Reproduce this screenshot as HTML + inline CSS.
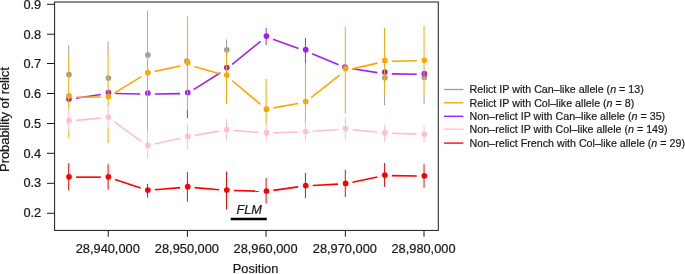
<!DOCTYPE html>
<html><head><meta charset="utf-8"><title>Probability of relict</title>
<style>
html,body{margin:0;padding:0;background:#fff;}
svg{display:block;}
.t{font-family:"Liberation Sans",sans-serif;font-size:12.8px;fill:#1a1a1a;stroke:#1a1a1a;stroke-width:0.22px;}
.l{font-family:"Liberation Sans",sans-serif;font-size:10.7px;fill:#1a1a1a;stroke:#1a1a1a;stroke-width:0.2px;}
</style></head><body>
<svg width="685" height="274" viewBox="0 0 685 274">
<rect width="685" height="274" fill="#fff"/>
<g id="gray"><circle cx="69.00" cy="74.5" r="2.85" fill="#a0a0a0"/>
<circle cx="108.40" cy="78.1" r="2.85" fill="#a0a0a0"/>
<circle cx="147.84" cy="54.9" r="2.85" fill="#a0a0a0"/>
<circle cx="186.90" cy="61.2" r="2.85" fill="#a0a0a0"/>
<circle cx="226.80" cy="49.85" r="2.85" fill="#a0a0a0"/>
<circle cx="384.86" cy="77.8" r="2.85" fill="#a0a0a0"/>
<circle cx="424.34" cy="77.4" r="2.85" fill="#a0a0a0"/>
<line x1="68.70" y1="45.5" x2="68.70" y2="54.9" stroke="#a0a0a0" stroke-width="1.0"/>
<line x1="108.10" y1="41.6" x2="108.10" y2="50.6" stroke="#a0a0a0" stroke-width="1.0"/>
<line x1="147.54" y1="10.9" x2="147.54" y2="14.2" stroke="#a0a0a0" stroke-width="1.0"/>
<line x1="226.50" y1="39.4" x2="226.50" y2="51.2" stroke="#a0a0a0" stroke-width="1.0"/>
<line x1="384.56" y1="94.2" x2="384.56" y2="105.2" stroke="#a0a0a0" stroke-width="1.0"/>
<line x1="424.04" y1="95" x2="424.04" y2="104.1" stroke="#a0a0a0" stroke-width="1.0"/></g>
<g id="purple"><line x1="75.91" y1="98.28" x2="100.89" y2="94.42" stroke="#a020f0" stroke-width="1.6"/>
<line x1="115.40" y1="93.45" x2="140.24" y2="93.95" stroke="#a020f0" stroke-width="1.6"/>
<line x1="154.84" y1="93.99" x2="180.10" y2="93.61" stroke="#a020f0" stroke-width="1.6"/>
<line x1="193.58" y1="89.61" x2="220.32" y2="72.74" stroke="#a020f0" stroke-width="1.6"/>
<line x1="232.18" y1="64.27" x2="260.44" y2="41.48" stroke="#a020f0" stroke-width="1.6"/>
<line x1="272.99" y1="39.37" x2="298.55" y2="48.58" stroke="#a020f0" stroke-width="1.6"/>
<line x1="312.16" y1="53.85" x2="338.56" y2="64.80" stroke="#a020f0" stroke-width="1.6"/>
<line x1="352.51" y1="68.74" x2="377.35" y2="72.66" stroke="#a020f0" stroke-width="1.6"/>
<line x1="391.86" y1="73.89" x2="416.74" y2="74.21" stroke="#a020f0" stroke-width="1.6"/>
<circle cx="69.00" cy="99.0" r="2.85" fill="#a020f0"/>
<circle cx="108.40" cy="92.6" r="2.85" fill="#a020f0"/>
<circle cx="147.84" cy="93.0" r="2.85" fill="#a020f0"/>
<circle cx="187.70" cy="92.5" r="2.85" fill="#a020f0"/>
<circle cx="226.80" cy="67.5" r="2.85" fill="#a020f0"/>
<circle cx="266.42" cy="36.1" r="2.85" fill="#a020f0"/>
<circle cx="305.72" cy="49.7" r="2.85" fill="#a020f0"/>
<circle cx="345.00" cy="67.1" r="2.85" fill="#a020f0"/>
<circle cx="384.86" cy="72.0" r="2.85" fill="#a020f0"/>
<circle cx="424.34" cy="73.7" r="2.85" fill="#a020f0"/>
<line x1="187.40" y1="109.8" x2="187.40" y2="118" stroke="#a020f0" stroke-width="1.0"/>
<line x1="266.12" y1="28" x2="266.12" y2="44.9" stroke="#a020f0" stroke-width="1.0"/>
<line x1="305.42" y1="37.9" x2="305.42" y2="63.2" stroke="#a020f0" stroke-width="1.0"/></g>
<g id="orange"><line x1="76.00" y1="97.30" x2="100.80" y2="96.95" stroke="#ffa500" stroke-width="1.6"/>
<line x1="114.34" y1="93.06" x2="141.30" y2="76.69" stroke="#ffa500" stroke-width="1.6"/>
<line x1="154.68" y1="71.38" x2="180.26" y2="65.92" stroke="#ffa500" stroke-width="1.6"/>
<line x1="194.41" y1="66.44" x2="219.49" y2="73.76" stroke="#ffa500" stroke-width="1.6"/>
<line x1="232.09" y1="80.50" x2="260.53" y2="104.40" stroke="#ffa500" stroke-width="1.6"/>
<line x1="273.31" y1="107.84" x2="298.23" y2="103.46" stroke="#ffa500" stroke-width="1.6"/>
<line x1="311.13" y1="97.66" x2="339.59" y2="75.04" stroke="#ffa500" stroke-width="1.6"/>
<line x1="352.42" y1="68.87" x2="377.44" y2="63.13" stroke="#ffa500" stroke-width="1.6"/>
<line x1="391.86" y1="61.32" x2="416.74" y2="60.68" stroke="#ffa500" stroke-width="1.6"/>
<circle cx="69.00" cy="95.8" r="2.85" fill="#ffa500"/>
<circle cx="108.40" cy="96.5" r="2.85" fill="#ffa500"/>
<circle cx="147.84" cy="72.5" r="2.85" fill="#ffa500"/>
<circle cx="187.70" cy="62.5" r="2.85" fill="#ffa500"/>
<circle cx="226.80" cy="75.0" r="2.85" fill="#ffa500"/>
<circle cx="266.42" cy="109.2" r="2.85" fill="#ffa500"/>
<circle cx="305.72" cy="101.5" r="2.85" fill="#ffa500"/>
<circle cx="345.60" cy="68.6" r="2.85" fill="#ffa500"/>
<circle cx="384.86" cy="60.6" r="2.85" fill="#ffa500"/>
<circle cx="424.34" cy="60.3" r="2.85" fill="#ffa500"/>
<line x1="68.70" y1="54.7" x2="68.70" y2="109.6" stroke="#ffa500" stroke-width="1.0"/>
<line x1="108.10" y1="50.4" x2="108.10" y2="106.2" stroke="#ffa500" stroke-width="1.0"/>
<line x1="147.54" y1="14.0" x2="147.54" y2="131" stroke="#ffa500" stroke-width="1.0"/>
<line x1="187.40" y1="16.4" x2="187.40" y2="110" stroke="#ffa500" stroke-width="1.0"/>
<line x1="226.50" y1="51" x2="226.50" y2="104.1" stroke="#ffa500" stroke-width="1.0"/>
<line x1="266.12" y1="79" x2="266.12" y2="123.9" stroke="#ffa500" stroke-width="1.0"/>
<line x1="305.42" y1="63" x2="305.42" y2="121.9" stroke="#ffa500" stroke-width="1.0"/>
<line x1="345.30" y1="26.7" x2="345.30" y2="113.3" stroke="#ffa500" stroke-width="1.0"/>
<line x1="384.56" y1="27.8" x2="384.56" y2="94.2" stroke="#ffa500" stroke-width="1.0"/>
<line x1="424.04" y1="25.8" x2="424.04" y2="95" stroke="#ffa500" stroke-width="1.0"/>
<line x1="68.70" y1="131.3" x2="68.70" y2="137.5" stroke="#ffa500" stroke-width="1.0"/>
<line x1="108.10" y1="127.9" x2="108.10" y2="143.1" stroke="#ffa500" stroke-width="1.0"/></g>
<g id="pink"><line x1="75.97" y1="120.39" x2="100.83" y2="118.11" stroke="#ffc0cb" stroke-width="1.6"/>
<line x1="114.04" y1="121.70" x2="141.60" y2="141.40" stroke="#ffc0cb" stroke-width="1.6"/>
<line x1="154.66" y1="144.04" x2="180.28" y2="138.26" stroke="#ffc0cb" stroke-width="1.6"/>
<line x1="194.59" y1="135.40" x2="219.31" y2="131.10" stroke="#ffc0cb" stroke-width="1.6"/>
<line x1="233.78" y1="130.44" x2="258.84" y2="132.46" stroke="#ffc0cb" stroke-width="1.6"/>
<line x1="273.42" y1="132.83" x2="298.12" y2="132.07" stroke="#ffc0cb" stroke-width="1.6"/>
<line x1="312.70" y1="131.32" x2="338.02" y2="129.48" stroke="#ffc0cb" stroke-width="1.6"/>
<line x1="352.56" y1="129.71" x2="377.30" y2="132.29" stroke="#ffc0cb" stroke-width="1.6"/>
<line x1="391.86" y1="133.29" x2="416.74" y2="134.11" stroke="#ffc0cb" stroke-width="1.6"/>
<circle cx="69.00" cy="120.7" r="2.85" fill="#ffc0cb"/>
<circle cx="108.40" cy="117.1" r="2.85" fill="#ffc0cb"/>
<circle cx="147.84" cy="145.3" r="2.85" fill="#ffc0cb"/>
<circle cx="187.70" cy="136.3" r="2.85" fill="#ffc0cb"/>
<circle cx="226.80" cy="129.5" r="2.85" fill="#ffc0cb"/>
<circle cx="266.42" cy="132.7" r="2.85" fill="#ffc0cb"/>
<circle cx="305.72" cy="131.5" r="2.85" fill="#ffc0cb"/>
<circle cx="345.60" cy="128.6" r="2.85" fill="#ffc0cb"/>
<circle cx="384.86" cy="132.7" r="2.85" fill="#ffc0cb"/>
<circle cx="424.34" cy="134" r="2.85" fill="#ffc0cb"/>
<line x1="68.70" y1="109.5" x2="68.70" y2="131.4" stroke="#ffc0cb" stroke-width="1.0"/>
<line x1="108.10" y1="106.1" x2="108.10" y2="128" stroke="#ffc0cb" stroke-width="1.0"/>
<line x1="147.54" y1="131" x2="147.54" y2="158" stroke="#ffc0cb" stroke-width="1.0"/>
<line x1="187.40" y1="123.6" x2="187.40" y2="149.3" stroke="#ffc0cb" stroke-width="1.0"/>
<line x1="226.50" y1="118.9" x2="226.50" y2="140.7" stroke="#ffc0cb" stroke-width="1.0"/>
<line x1="266.12" y1="123.8" x2="266.12" y2="141.7" stroke="#ffc0cb" stroke-width="1.0"/>
<line x1="305.42" y1="121.8" x2="305.42" y2="140.7" stroke="#ffc0cb" stroke-width="1.0"/>
<line x1="345.30" y1="117.7" x2="345.30" y2="140" stroke="#ffc0cb" stroke-width="1.0"/>
<line x1="384.56" y1="124.9" x2="384.56" y2="141.7" stroke="#ffc0cb" stroke-width="1.0"/>
<line x1="424.04" y1="125.9" x2="424.04" y2="142.8" stroke="#ffc0cb" stroke-width="1.0"/></g>
<g id="red"><line x1="76.00" y1="177.15" x2="100.80" y2="177.15" stroke="#ff0000" stroke-width="1.6"/>
<line x1="115.02" y1="179.47" x2="140.62" y2="188.03" stroke="#ff0000" stroke-width="1.6"/>
<line x1="154.82" y1="189.75" x2="180.12" y2="187.65" stroke="#ff0000" stroke-width="1.6"/>
<line x1="194.67" y1="187.66" x2="219.23" y2="189.74" stroke="#ff0000" stroke-width="1.6"/>
<line x1="233.80" y1="190.53" x2="258.82" y2="191.17" stroke="#ff0000" stroke-width="1.6"/>
<line x1="273.35" y1="190.34" x2="298.19" y2="186.86" stroke="#ff0000" stroke-width="1.6"/>
<line x1="312.71" y1="185.47" x2="338.01" y2="184.13" stroke="#ff0000" stroke-width="1.6"/>
<line x1="352.44" y1="182.24" x2="377.42" y2="176.96" stroke="#ff0000" stroke-width="1.6"/>
<line x1="391.86" y1="175.58" x2="416.74" y2="176.02" stroke="#ff0000" stroke-width="1.6"/>
<circle cx="69.00" cy="176.8" r="2.85" fill="#ff0000"/>
<circle cx="108.40" cy="176.8" r="2.85" fill="#ff0000"/>
<circle cx="147.84" cy="190.0" r="2.85" fill="#ff0000"/>
<circle cx="187.70" cy="186.7" r="2.85" fill="#ff0000"/>
<circle cx="226.80" cy="190.0" r="2.85" fill="#ff0000"/>
<circle cx="266.42" cy="191.0" r="2.85" fill="#ff0000"/>
<circle cx="305.72" cy="185.5" r="2.85" fill="#ff0000"/>
<circle cx="345.60" cy="183.4" r="2.85" fill="#ff0000"/>
<circle cx="384.86" cy="175.1" r="2.85" fill="#ff0000"/>
<circle cx="424.34" cy="175.8" r="2.85" fill="#ff0000"/>
<line x1="68.70" y1="163.1" x2="68.70" y2="190.5" stroke="#ff0000" stroke-width="1.0"/>
<line x1="108.10" y1="164.2" x2="108.10" y2="189.8" stroke="#ff0000" stroke-width="1.0"/>
<line x1="147.54" y1="183.9" x2="147.54" y2="197.3" stroke="#ff0000" stroke-width="1.0"/>
<line x1="187.40" y1="171.9" x2="187.40" y2="201.6" stroke="#ff0000" stroke-width="1.0"/>
<line x1="226.50" y1="171.5" x2="226.50" y2="209.3" stroke="#ff0000" stroke-width="1.0"/>
<line x1="266.12" y1="178" x2="266.12" y2="203.6" stroke="#ff0000" stroke-width="1.0"/>
<line x1="305.42" y1="173" x2="305.42" y2="198.3" stroke="#ff0000" stroke-width="1.0"/>
<line x1="345.30" y1="169.7" x2="345.30" y2="197.1" stroke="#ff0000" stroke-width="1.0"/>
<line x1="384.56" y1="163.1" x2="384.56" y2="186.8" stroke="#ff0000" stroke-width="1.0"/>
<line x1="424.04" y1="164.2" x2="424.04" y2="187.7" stroke="#ff0000" stroke-width="1.0"/></g>
<rect x="54.6" y="2.0" width="383.7" height="228.4" fill="none" stroke="#1a1a1a" stroke-width="1"/>
<line x1="47" y1="213.30" x2="54.6" y2="213.30" stroke="#1a1a1a" stroke-width="1"/>
<text x="41.2" y="217.00" text-anchor="end" class="t">0.2</text>
<line x1="47" y1="183.30" x2="54.6" y2="183.30" stroke="#1a1a1a" stroke-width="1"/>
<text x="41.2" y="187.10" text-anchor="end" class="t">0.3</text>
<line x1="47" y1="153.30" x2="54.6" y2="153.30" stroke="#1a1a1a" stroke-width="1"/>
<text x="41.2" y="157.60" text-anchor="end" class="t">0.4</text>
<line x1="47" y1="123.50" x2="54.6" y2="123.50" stroke="#1a1a1a" stroke-width="1"/>
<text x="41.2" y="127.85" text-anchor="end" class="t">0.5</text>
<line x1="47" y1="93.50" x2="54.6" y2="93.50" stroke="#1a1a1a" stroke-width="1"/>
<text x="41.2" y="97.90" text-anchor="end" class="t">0.6</text>
<line x1="47" y1="63.50" x2="54.6" y2="63.50" stroke="#1a1a1a" stroke-width="1"/>
<text x="41.2" y="67.75" text-anchor="end" class="t">0.7</text>
<line x1="47" y1="34.20" x2="54.6" y2="34.20" stroke="#1a1a1a" stroke-width="1"/>
<text x="41.2" y="38.70" text-anchor="end" class="t">0.8</text>
<line x1="47" y1="4.30" x2="54.6" y2="4.30" stroke="#1a1a1a" stroke-width="1"/>
<text x="41.2" y="8.75" text-anchor="end" class="t">0.9</text>
<line x1="108.27" y1="230.4" x2="108.27" y2="236.8" stroke="#1a1a1a" stroke-width="1"/>
<text x="107.77" y="253.3" text-anchor="middle" class="t">28,940,000</text>
<line x1="187.4" y1="230.4" x2="187.4" y2="236.8" stroke="#1a1a1a" stroke-width="1"/>
<text x="186.9" y="253.3" text-anchor="middle" class="t">28,950,000</text>
<line x1="266.05" y1="230.4" x2="266.05" y2="236.8" stroke="#1a1a1a" stroke-width="1"/>
<text x="265.55" y="253.3" text-anchor="middle" class="t">28,960,000</text>
<line x1="345.35" y1="230.4" x2="345.35" y2="236.8" stroke="#1a1a1a" stroke-width="1"/>
<text x="344.85" y="253.3" text-anchor="middle" class="t">28,970,000</text>
<line x1="424.0" y1="230.4" x2="424.0" y2="236.8" stroke="#1a1a1a" stroke-width="1"/>
<text x="423.5" y="253.3" text-anchor="middle" class="t">28,980,000</text>
<text x="255.6" y="273.4" text-anchor="middle" class="t">Position</text>
<text transform="translate(9.25,119.6) rotate(-90)" text-anchor="middle" class="t" style="font-size:13.0px;letter-spacing:-0.077px">Probability of relict</text>
<text x="249.2" y="214.1" text-anchor="middle" class="t" font-style="italic">FLM</text>
<line x1="230.7" y1="219.0" x2="266.8" y2="219.0" stroke="#000" stroke-width="2.7"/>
<line x1="444" y1="89.50" x2="463.4" y2="89.50" stroke="#a0a0a0" stroke-width="1.35"/>
<text x="469.6" y="92.60" class="l">Relict IP with Can–like allele (<tspan font-style="italic">n</tspan> = 13)</text>
<line x1="444" y1="102.80" x2="463.4" y2="102.80" stroke="#ffa500" stroke-width="1.35"/>
<text x="469.6" y="106.50" class="l">Relict IP with Col–like allele (<tspan font-style="italic">n</tspan> = 8)</text>
<line x1="444" y1="116.30" x2="463.4" y2="116.30" stroke="#a020f0" stroke-width="1.35"/>
<text x="469.6" y="119.70" class="l">Non–relict IP with Can–like allele (<tspan font-style="italic">n</tspan> = 35)</text>
<line x1="444" y1="129.20" x2="463.4" y2="129.20" stroke="#ffc0cb" stroke-width="1.35"/>
<text x="469.6" y="132.50" class="l">Non–relict IP with Col–like allele (<tspan font-style="italic">n</tspan> = 149)</text>
<line x1="444" y1="143.10" x2="463.4" y2="143.10" stroke="#ff0000" stroke-width="1.35"/>
<text x="469.6" y="147.00" class="l">Non–relict French with Col–like allele (<tspan font-style="italic">n</tspan> = 29)</text>
</svg>
</body></html>
